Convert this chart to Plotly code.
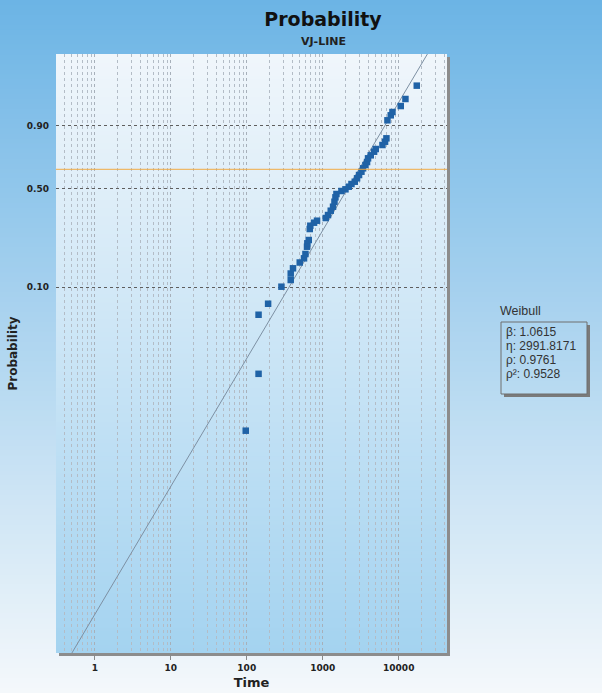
import numpy as np
import plotly.graph_objects as go

# ---------------- data ----------------
time_values = [97, 143, 143, 191, 286, 379, 379, 406, 498, 567,
               592, 621, 627, 654, 675, 686, 768, 841, 1095, 1174,
               1274, 1366, 1426, 1469, 1514, 1762, 1990, 2198, 2387, 2638,
               2827, 3004, 3230, 3390, 3646, 3828, 3946, 4283, 4735, 4983,
               6103, 6602, 6887, 7100, 7847, 8263, 10623, 12250, 17260]
unreliability = [0.0068, 0.0200, 0.0605, 0.0741, 0.1011, 0.1141, 0.1281, 0.1405, 0.1556, 0.1674,
                 0.1804, 0.2044, 0.2165, 0.2288, 0.2742, 0.2892, 0.3034, 0.3131, 0.3266, 0.3421,
                 0.3653, 0.3877, 0.4171, 0.4440, 0.4649, 0.4843, 0.4954, 0.5126, 0.5308, 0.5464,
                 0.5699, 0.5928, 0.6160, 0.6398, 0.6630, 0.6838, 0.7094, 0.7298, 0.7538, 0.7715,
                 0.7967, 0.8167, 0.8364, 0.9222, 0.9397, 0.9498, 0.9650, 0.9784, 0.9929]

beta = 1.0615
eta = 2991.8171
rho = 0.9761
rho_sq = 0.9528

prob_ticks = [0.10, 0.50, 0.90]
prob_tick_labels = ["0.10", "0.50", "0.90"]
time_ticks = [1, 10, 100, 1000, 10000]
time_tick_labels = ["1", "10", "100", "1000", "10000"]

title_text = "Probability"
subtitle_text = "VJ-LINE"
x_title = "Time"
y_title = "Probability"
fit_name = "Weibull"

# ---------------- geometry ----------------
W, H = 602, 693
ML, MR, MT, MB = 56, 155, 54, 40
PW, PH = W - ML - MR, H - MT - MB
X_RANGE = [-0.51, 4.635]          # log10(time)
Y_RANGE = [-9.231, 2.203]         # ln(-ln(1-F))


def weib(p):
    p = np.asarray(p, dtype=float)
    return np.log(-np.log(1.0 - p))


def px2paper_x(px):
    return (px - ML) / PW


def py2paper_y(py):
    return (H - MB - py) / PH


def mix(c0, c1, f):
    return "rgb(%d,%d,%d)" % tuple(round(a + (b - a) * f) for a, b in zip(c0, c1))


shapes = []


def gradient(x0, x1, y0, y1, c0, c1, n):
    step = (y1 - y0) / n
    for i in range(n):
        ya = y0 + i * step
        yb = ya + step + 0.8
        shapes.append(dict(type="rect", xref="paper", yref="paper",
                           x0=px2paper_x(x0), x1=px2paper_x(x1),
                           y0=py2paper_y(ya), y1=py2paper_y(min(yb, y1)),
                           line=dict(width=0), fillcolor=mix(c0, c1, (i + 0.5) / n),
                           layer="below"))


# outer background gradient
gradient(0, W, 0, H, (108, 180, 229), (244, 248, 251), 140)
# plot shadow
shapes.append(dict(type="rect", xref="paper", yref="paper",
                   x0=px2paper_x(ML + 3), x1=px2paper_x(ML + PW + 3),
                   y0=py2paper_y(MT + 3), y1=py2paper_y(MT + PH + 3),
                   line=dict(width=0), fillcolor="#8c8c8c", layer="below"))
# plot-area gradient
gradient(ML, ML + PW, MT, MT + PH, (240, 246, 251), (164, 211, 240), 140)

# legend box (shadow strips + border)
bx0, bx1, by0, by1 = 501, 587, 322, 394
shapes.append(dict(type="rect", xref="paper", yref="paper",
                   x0=px2paper_x(bx1), x1=px2paper_x(bx1 + 3),
                   y0=py2paper_y(by0 + 3), y1=py2paper_y(by1 + 3),
                   line=dict(width=0), fillcolor="#7a7a7a", layer="below"))
shapes.append(dict(type="rect", xref="paper", yref="paper",
                   x0=px2paper_x(bx0 + 3), x1=px2paper_x(bx1 + 3),
                   y0=py2paper_y(by1), y1=py2paper_y(by1 + 3),
                   line=dict(width=0), fillcolor="#7a7a7a", layer="below"))
shapes.append(dict(type="rect", xref="paper", yref="paper",
                   x0=px2paper_x(bx0), x1=px2paper_x(bx1),
                   y0=py2paper_y(by0), y1=py2paper_y(by1),
                   line=dict(width=1, color="#6f6f6f"), fillcolor="rgba(0,0,0,0)",
                   layer="below"))

# characteristic-life (63.2 %) line
y_char = float(weib(1 - np.exp(-1)))
shapes.append(dict(type="line", xref="paper", yref="y",
                   x0=0, x1=1, y0=y_char, y1=y_char,
                   line=dict(width=1.3, color="#f2a83a"), opacity=0.75, layer="above"))

# ---------------- traces ----------------
fig = go.Figure()

t_line = np.logspace(X_RANGE[0], X_RANGE[1], 200)
fig.add_trace(go.Scatter(x=t_line, y=beta * np.log(t_line / eta), mode="lines",
                         line=dict(color="#7d90a3", width=1), hoverinfo="skip",
                         showlegend=False))

fig.add_trace(go.Scatter(x=time_values, y=weib(unreliability), mode="markers",
                         marker=dict(symbol="square", size=6.5, color="#1f62a6",
                                     line=dict(width=0)),
                         showlegend=False))

BOLD = "DejaVu Sans, sans-serif"
PLAIN = "Liberation Sans, Arial, sans-serif"

annotations = [
    dict(text=subtitle_text, xref="paper", yref="paper", x=px2paper_x(323), y=py2paper_y(41),
         xanchor="center", yanchor="middle", showarrow=False,
         font=dict(family=BOLD, size=11, color="#222222", weight="bold")),
    dict(text=fit_name, xref="paper", yref="paper", x=px2paper_x(498), y=py2paper_y(311),
         xanchor="left", yanchor="middle", showarrow=False,
         font=dict(family=PLAIN, size=12.5, color="#333333")),
]
legend_lines = ["β: %.4f" % beta, "η: %.4f" % eta, "ρ: %.4f" % rho, "ρ²: %.4f" % rho_sq]
for i, txt in enumerate(legend_lines):
    annotations.append(dict(text=txt, xref="paper", yref="paper",
                            x=px2paper_x(504), y=py2paper_y(331.5 + i * 14.0),
                            xanchor="left", yanchor="middle", showarrow=False,
                            font=dict(family=PLAIN, size=12, color="#333333")))

fig.update_layout(
    width=W, height=H,
    margin=dict(l=ML, r=MR, t=MT, b=MB, autoexpand=False),
    paper_bgcolor="#a9d3ef",
    plot_bgcolor="rgba(0,0,0,0)",
    showlegend=False,
    title=dict(text=title_text, xref="paper", x=px2paper_x(323), xanchor="center",
               yref="container", y=1 - 19 / H, yanchor="middle",
               font=dict(family=BOLD, size=19, color="#111111", weight="bold")),
    shapes=shapes,
    annotations=annotations,
    xaxis=dict(type="log", range=X_RANGE, tickmode="array", tickvals=time_ticks,
               ticktext=time_tick_labels,
               showgrid=True, gridcolor="#a7b0ba", griddash="dot", gridwidth=1,
               minor=dict(showgrid=True, gridcolor="#b3bcc6", griddash="dot",
                          gridwidth=1, dtick="D1", ticks=""),
               ticks="outside", ticklen=6, tickcolor="#8a8a8a",
               zeroline=False, showline=False,
               tickfont=dict(family=BOLD, size=9, color="#222222", weight="bold"),
               title=dict(text=x_title, standoff=6,
                          font=dict(family=BOLD, size=13, color="#222222", weight="bold"))),
    yaxis=dict(range=Y_RANGE, tickmode="array", tickvals=weib(prob_ticks).tolist(),
               ticktext=prob_tick_labels,
               showgrid=True, gridcolor="#5e5e5e", griddash="dot", gridwidth=1,
               zeroline=False, showline=False, ticks="", ticklabelstandoff=6,
               tickfont=dict(family=BOLD, size=9, color="#222222", weight="bold"),
               title=dict(text=y_title, standoff=6,
                          font=dict(family=BOLD, size=12, color="#222222", weight="bold"))),
)

fig.write_html("out.html", config={"displayModeBar": False},
               post_script="document.body.style.margin='0px';")
